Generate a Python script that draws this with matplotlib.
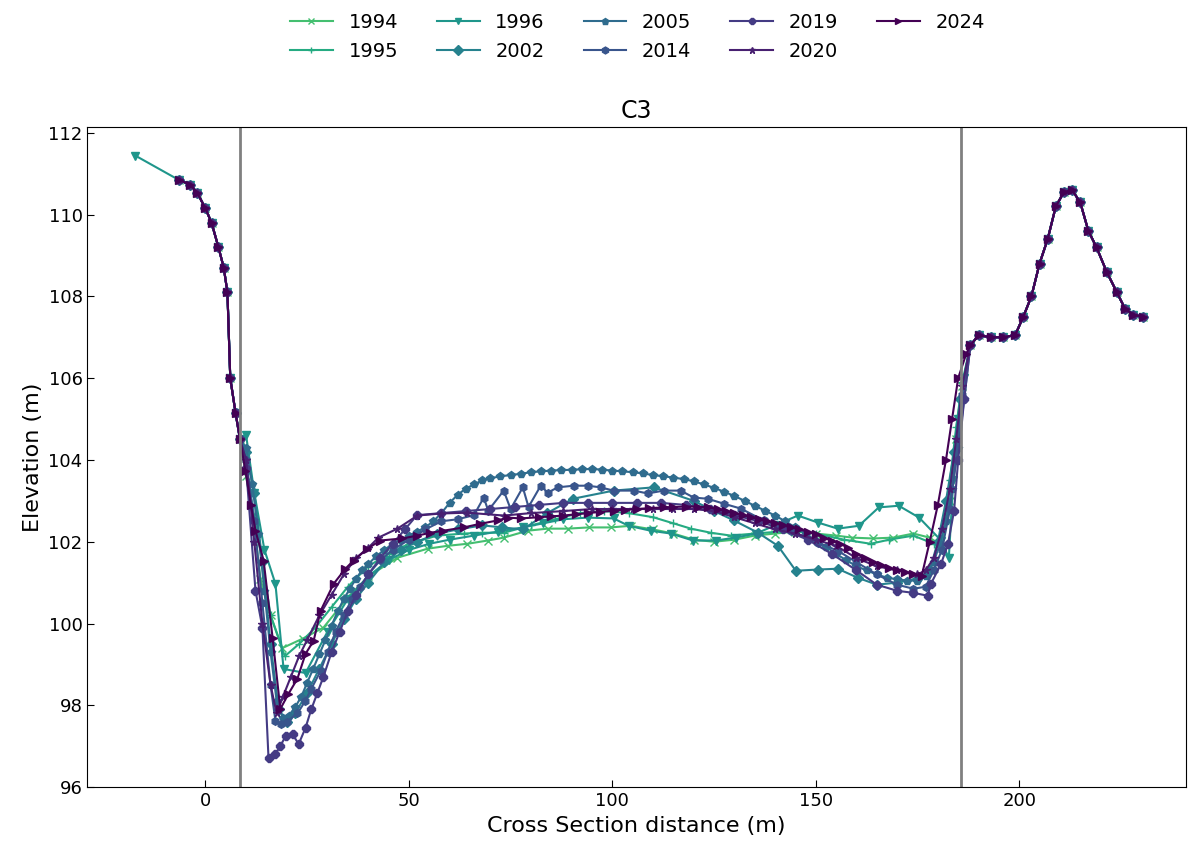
import matplotlib
matplotlib.use("Agg")
import matplotlib.pyplot as plt
import numpy as np

# ── Data ────────────────────────────────────────────────────────────────
years = ["1994", "1995", "1996", "2002", "2005", "2014", "2019", "2020", "2024"]
markers = ["x", "+", "v", "D", "p", "h", "8", "*", ">"]

# left bank, shared by all surveys
bank_l_x = [-6.6, -3.7, -2.0, 0.0, 1.5, 3.2, 4.5, 5.4, 6.1, 7.4, 8.5]
bank_l_y = [110.85, 110.73, 110.53, 110.15, 109.8, 109.2, 108.7, 108.1, 106.0, 105.15, 104.5]

# right bank, shared by all surveys
bank_r_x = [188, 190, 193, 196, 199, 201, 203, 205, 207, 209, 211, 213, 215, 217, 219,
            221.5, 224, 226, 228, 230.5]
bank_r_y = [106.8, 107.05, 107.0, 107.0, 107.05, 107.5, 108.0, 108.8, 109.4, 110.2, 110.55,
            110.6, 110.3, 109.6, 109.2, 108.6, 108.1, 107.7, 107.55, 107.5]

# channel part of each survey
ch_1994_x = [10, 12, 13.5, 16, 18.9, 23.9, 29, 34.9, 40, 47.2, 54.6, 59.5, 64.4, 69.4, 73.3,
             79.2, 84.1, 89, 94.2, 99.6, 104.5, 110, 115, 120, 125, 130, 135, 140, 145, 150,
             155, 159, 164, 169, 174, 178, 181, 183, 184.5, 186]
ch_1994_y = [103.6, 102.4, 101.1, 100.2, 99.4, 99.63, 99.9, 100.63, 101.15, 101.61, 101.83,
             101.9, 101.95, 102.03, 102.1, 102.27, 102.32, 102.32, 102.35, 102.35, 102.39,
             102.3, 102.2, 102.05, 102.0, 102.05, 102.15, 102.2, 102.25, 102.2, 102.15, 102.1,
             102.08, 102.1, 102.2, 102.1, 101.9, 103.0, 104.5, 105.8]

ch_1995_x = [10, 12, 14, 16, 19.5, 23, 27, 31, 35, 40, 45, 50, 57, 63.5, 68, 73.3, 80, 86,
             92, 98, 104, 110, 115, 119.3, 124.2, 129.1, 135, 143.9, 150, 157, 163.5, 168,
             174, 179, 181, 183, 184.5, 186]
ch_1995_y = [103.8, 102.6, 101.5, 100.2, 99.2, 99.5, 99.9, 100.4, 100.9, 101.4, 101.7,
             101.95, 102.15, 102.2, 102.22, 102.22, 102.4, 102.55, 102.7, 102.75, 102.7,
             102.6, 102.45, 102.32, 102.22, 102.15, 102.2, 102.27, 102.2, 102.05, 101.95,
             102.05, 102.15, 101.95, 101.8, 103.5, 104.8, 105.9]

ch_1996_x = [10, 12, 14.5, 17.2, 19.2, 24.6, 30, 35, 40, 45, 50, 55, 60, 66, 72, 78, 83,
             88, 93.9, 100.3, 104, 109.4, 114.4, 119.8, 125.4, 130.3, 135.3, 140, 145.6,
             150.5, 155.4, 160.6, 165.5, 170.4, 175.4, 180.8, 182.7, 183.8, 185, 186.5]
ch_1996_y = [104.6, 103.2, 101.8, 100.97, 98.89, 98.79, 99.8, 100.6, 101.15, 101.55,
             101.8, 101.95, 102.05, 102.15, 102.25, 102.35, 102.45, 102.55, 102.59, 102.57,
             102.39, 102.27, 102.2, 102.03, 102.03, 102.1, 102.2, 102.4, 102.64, 102.47,
             102.32, 102.39, 102.84, 102.88, 102.59, 102.03, 101.6, 103.5, 105.0, 106.0]

ch_2002_x = [10, 12, 14, 16, 18, 20, 22, 25, 28, 31, 34, 37, 40, 44, 48, 52, 57, 62, 68,
             73, 78, 84, 90.3, 100.3, 110.2, 120, 125, 129.9, 135.8, 140.7, 145.1, 150.5,
             155.4, 160.3, 165, 170, 175, 178, 180, 182, 184, 185.5]
ch_2002_y = [104.2, 103.2, 101.5, 99.5, 97.9, 97.6, 97.8, 98.3, 98.9, 99.5, 100.1, 100.6,
             101.0, 101.5, 101.8, 102.0, 102.2, 102.3, 102.4, 102.35, 102.3, 102.7, 103.05,
             103.25, 103.33, 103.0, 102.75, 102.52, 102.22, 101.9, 101.29, 101.32, 101.34,
             101.12, 100.95, 101.0, 101.1, 101.3, 102.0, 103.0, 104.2, 105.5]

ch_2005_x = [10.0, 11.5, 13.0, 14.5, 16.0, 17.5, 19.0, 20.5, 22.0, 23.5, 25.0, 26.5, 28.0,
             29.5, 31.0, 32.5, 34.0, 35.5, 37.0, 38.5, 40.0, 42.0, 44.0, 46.0, 48.0, 50.0,
             52.0, 54.0, 56.0, 58.0, 60.0, 62.0, 64.0, 66.0, 68.0, 70.0, 72.5, 75.0, 77.5,
             80.0, 82.5, 85.0, 87.5, 90.0, 92.5, 95.0, 97.5, 100.0, 102.5, 105.0, 107.5,
             110.0, 112.5, 115.0, 117.5, 120.0, 122.5, 125.0, 127.5, 130.0, 132.5, 135.0,
             137.5, 140.0, 142.5, 145.0, 147.5, 150.0, 152.5, 155.0, 157.5, 160.0, 162.5,
             165.0, 167.5, 170.0, 172.5, 175.0, 177.0, 179.0, 180.5, 182.0, 183.5, 185.0,
             186.5]
ch_2005_y = [104.3, 103.4, 102.2, 100.8, 99.3, 98.1, 97.7, 97.75, 97.95, 98.2, 98.55,
             98.9, 99.25, 99.6, 99.95, 100.3, 100.6, 100.85, 101.1, 101.3, 101.45, 101.65,
             101.8, 101.95, 102.05, 102.15, 102.25, 102.35, 102.5, 102.7, 102.95, 103.15,
             103.3, 103.4, 103.5, 103.55, 103.6, 103.63, 103.66, 103.7, 103.72, 103.74,
             103.75, 103.76, 103.77, 103.78, 103.76, 103.74, 103.72, 103.7, 103.67, 103.63,
             103.6, 103.57, 103.53, 103.48, 103.4, 103.32, 103.22, 103.12, 103.0, 102.88,
             102.76, 102.64, 102.5, 102.35, 102.2, 102.03, 101.88, 101.7, 101.55, 101.4,
             101.3, 101.2, 101.12, 101.08, 101.05, 101.05, 101.15, 101.5, 101.95, 102.5,
             103.3, 104.3, 105.5]

ch_2014_x = [10, 12, 14, 16, 17.2, 18.5, 20, 22.6, 24.5, 26, 28.3, 30, 32, 34, 36, 38, 40,
             43, 46, 50, 54, 58, 62, 66, 68.4, 69.5, 73.3, 75, 78, 79.4, 82.4, 84.1, 86.6,
             90.5, 93.9, 97.1, 100.3, 105.3, 108.7, 112.6, 116.8, 120, 123.5, 127.4, 131.6,
             137.2, 143.9, 150.5, 155.4, 160, 165, 170, 174, 177, 179, 181, 183, 184.5, 186]
ch_2014_y = [104.0, 102.5, 100.5, 98.5, 97.62, 97.55, 97.6, 97.8, 98.1, 98.4, 98.84, 99.3,
             99.8, 100.2, 100.6, 100.9, 101.2, 101.55, 101.8, 102.05, 102.3, 102.5, 102.55,
             102.65, 103.08, 102.76, 103.25, 102.8, 103.33, 102.85, 103.37, 103.2, 103.33,
             103.37, 103.37, 103.33, 103.25, 103.25, 103.18, 103.25, 103.25, 103.08, 103.05,
             102.93, 102.81, 102.52, 102.27, 101.98, 101.78, 101.5, 101.2, 100.95, 100.85,
             100.9, 101.3, 101.8, 102.8, 104.0, 105.6]

ch_2019_x = [10, 12.3, 14, 15.5, 17.2, 18.4, 19.7, 21.4, 22.9, 24.6, 26, 27.5, 29, 31, 33,
             35, 37, 40, 43, 46, 49, 52, 58, 64, 70, 76, 82, 88, 94, 100, 106, 112, 118,
             124, 130, 136, 142, 148, 154, 160, 165, 170, 174, 177.5, 178.3, 180.8, 182.5,
             184, 185, 186.5]
ch_2019_y = [103.8, 100.8, 99.9, 96.71, 96.81, 97.0, 97.25, 97.3, 97.05, 97.45, 97.9,
             98.3, 98.7, 99.3, 99.8, 100.3, 100.7, 101.2, 101.6, 101.95, 102.3, 102.65,
             102.7, 102.75, 102.8, 102.85, 102.9, 102.95, 102.95, 102.95, 102.95, 102.95,
             102.9, 102.8, 102.65, 102.5, 102.3, 102.05, 101.7, 101.3, 100.95, 100.8, 100.75,
             100.68, 100.97, 101.46, 101.95, 102.76, 104.0, 105.5]

ch_2020_x = [10, 12, 14, 16, 17.5, 19, 21, 23, 25, 28, 31, 34, 37, 40, 42.5, 47.2, 52.1,
             57.8, 64.4, 73.3, 80, 88, 95, 100, 105, 110, 115, 120, 125, 130, 135, 140, 145,
             150, 155, 160, 165, 170, 175, 177, 179, 181, 183, 184.5, 186]
ch_2020_y = [104.0, 102.0, 100.0, 98.5, 97.8, 98.2, 98.7, 99.2, 99.6, 100.2, 100.7, 101.2,
             101.6, 101.85, 102.1, 102.32, 102.64, 102.69, 102.71, 102.64, 102.7, 102.75,
             102.8, 102.8, 102.8, 102.8, 102.8, 102.8, 102.75, 102.6, 102.45, 102.3, 102.2,
             102.05, 101.9, 101.6, 101.4, 101.3, 101.2, 101.3, 101.6, 102.3, 103.3, 104.5,
             105.8]

ch_2024_x = [9.8, 11.2, 12.3, 14.3, 16.5, 18.4, 20.4, 22.6, 24.6, 26.6, 28.3, 31.5, 34.4,
             36.4, 39.8, 43, 48.4, 52.1, 55.3, 58.5, 63.5, 67.6, 71.8, 74.3, 77.5, 82, 85,
             88, 91, 94, 97, 100.3, 103, 106, 109, 112.6, 115, 118, 121, 123.5, 126, 128,
             130, 132, 134, 136, 138, 140, 142, 144, 146, 148, 150, 152, 154, 156, 158, 160,
             162, 164, 166, 168, 170, 172, 174, 176, 178, 180, 182, 183.5, 185, 187]
ch_2024_y = [103.74, 102.9, 102.27, 101.54, 99.65, 97.91, 98.28, 98.65, 99.26, 99.58,
             100.31, 100.97, 101.34, 101.54, 101.83, 102.03, 102.08, 102.15, 102.22, 102.27,
             102.35, 102.44, 102.52, 102.59, 102.57, 102.6, 102.62, 102.64, 102.67, 102.7,
             102.73, 102.76, 102.78, 102.8, 102.82, 102.84, 102.85, 102.86, 102.86, 102.84,
             102.8, 102.75, 102.7, 102.65, 102.6, 102.55, 102.5, 102.45, 102.4, 102.35,
             102.3, 102.25, 102.18, 102.1, 102.02, 101.95, 101.85, 101.7, 101.6, 101.5,
             101.42, 101.35, 101.3, 101.25, 101.2, 101.15, 102.0, 102.9, 104.0, 105.0,
             106.0, 106.6]

channel_x = [ch_1994_x, ch_1995_x, ch_1996_x, ch_2002_x, ch_2005_x, ch_2014_x, ch_2019_x,
             ch_2020_x, ch_2024_x]
channel_y = [ch_1994_y, ch_1995_y, ch_1996_y, ch_2002_y, ch_2005_y, ch_2014_y, ch_2019_y,
             ch_2020_y, ch_2024_y]

# 1996 survey reaches further up the left bank
extra_1996_x = [-17.2]
extra_1996_y = [111.44]

# bank-top reference lines
bank_lines = [8.6, 185.7]

# ── Plot ────────────────────────────────────────────────────────────────
colors = plt.cm.viridis(np.linspace(0.7, 0.0, len(years)))

fig = plt.figure(figsize=(11.98, 8.5), dpi=100)
ax = fig.add_axes([0.073, 0.074, 0.917, 0.777])

for i, yr in enumerate(years):
    xs = list(bank_l_x) + channel_x[i] + list(bank_r_x)
    ys = list(bank_l_y) + channel_y[i] + list(bank_r_y)
    if yr == "1996":
        xs = extra_1996_x + xs
        ys = extra_1996_y + ys
    ax.plot(xs, ys, marker=markers[i], color=colors[i], linewidth=1.5,
            markersize=5.5, label=yr)

for xv in bank_lines:
    ax.axvline(xv, color="gray", linewidth=2)

ax.set_xlim(-29, 241)
ax.set_ylim(96, 112.15)
ax.set_yticks(np.arange(96, 113, 2))
ax.set_xticks([0, 50, 100, 150, 200])
ax.tick_params(direction="in", length=5, labelsize=13)
ax.set_xlabel("Cross Section distance (m)", fontsize=16)
ax.set_ylabel("Elevation (m)", fontsize=16)
ax.set_title("C3", fontsize=17)

fig.legend(loc="upper center", bbox_to_anchor=(0.532, 1.005), ncol=5, frameon=False,
           fontsize=14, handlelength=2.2, columnspacing=2.0, markerscale=0.9)

plt.savefig("out.png", dpi=100)
plt.close()
